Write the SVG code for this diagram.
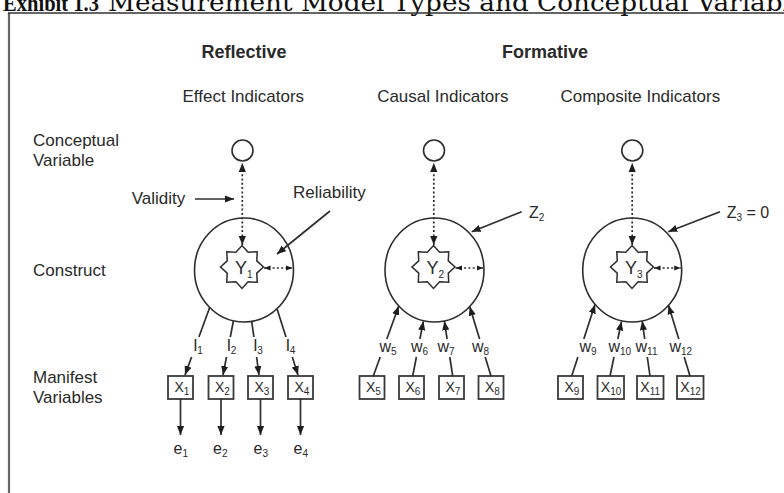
<svg xmlns="http://www.w3.org/2000/svg" width="784" height="493" viewBox="0 0 784 493">
  <style>
    .lbl { font-family: "Liberation Sans", Arial, Helvetica, sans-serif; font-size: 17px; fill: #2a2a2a; }
    .hd { font-weight: bold; font-size: 18px; }
    .sym { font-family: "Liberation Sans", Arial, Helvetica, sans-serif; font-size: 16px; fill: #2a2a2a; }
    .yl { font-size: 18px; }
    .xl { font-size: 14px; }
    .sub { font-size: 10px; }
    .ln { stroke: #2e2e2e; stroke-width: 1.7; fill: none; }
    .dot { stroke-dasharray: 2 2.3; }
    .box { fill: #fff; stroke: #3a3a3a; stroke-width: 1.8; }
    .cir { fill: #fff; stroke: #2e2e2e; stroke-width: 1.6; }
    .star { fill: #fff; stroke: #2e2e2e; stroke-width: 1.5; }
    .title { font-family: "DejaVu Serif", "Liberation Serif", serif; font-size: 25px; fill: #111; }
    .title-b { font-family: "Liberation Serif", "DejaVu Serif", serif; font-size: 23px; font-weight: bold; fill: #111; }
  </style>
  <defs>
    <marker id="ah" viewBox="0 0 10 10" refX="10" refY="5" markerWidth="9" markerHeight="9" markerUnits="userSpaceOnUse" orient="auto-start-reverse">
      <path d="M0,1 L10,5 L0,9 z" fill="#1e1e1e"/>
    </marker>
    <marker id="ahs" viewBox="0 0 10 10" refX="10" refY="5" markerWidth="6.5" markerHeight="6.5" markerUnits="userSpaceOnUse" orient="auto-start-reverse">
      <path d="M0,1 L10,5 L0,9 z" fill="#1e1e1e"/>
    </marker>
    <!-- eight-pointed construct star, centred on 0,0 -->
    <polygon id="star8" points="21.5,0 14.78,6.12 15.2,15.2 6.12,14.78 0,21.5 -6.12,14.78 -15.2,15.2 -14.78,6.12 -21.5,0 -14.78,-6.12 -15.2,-15.2 -6.12,-14.78 0,-21.5 6.12,-14.78 15.2,-15.2 14.78,-6.12"/>
  </defs>

  <rect width="784" height="493" fill="#fff"/>

  <!-- title and frame -->
  <g id="title">
    <text class="title-b" x="3" y="11" textLength="96" lengthAdjust="spacingAndGlyphs">Exhibit 1.3</text>
    <text class="title" x="108" y="11" textLength="712" lengthAdjust="spacingAndGlyphs">Measurement Model Types and Conceptual Variables</text>
  </g>
  <g id="frame">
    <line x1="9" y1="13" x2="9" y2="493" stroke="#666" stroke-width="2.2"/>
    <line x1="8" y1="13" x2="784" y2="13" stroke="#333" stroke-width="1.4"/>
  </g>

  <!-- column headings -->
  <g id="heading-reflective"><text class="lbl hd" x="244" y="58" text-anchor="middle">Reflective</text></g>
  <g id="heading-formative"><text class="lbl hd" x="545" y="58" text-anchor="middle">Formative</text></g>
  <g id="sub-effect"><text class="lbl" x="243.3" y="102" text-anchor="middle">Effect Indicators</text></g>
  <g id="sub-causal"><text class="lbl" x="442.8" y="102" text-anchor="middle">Causal Indicators</text></g>
  <g id="sub-composite"><text class="lbl" x="640.3" y="102" text-anchor="middle">Composite Indicators</text></g>

  <!-- row labels -->
  <g id="row-conceptual"><text class="lbl" x="33" y="146">Conceptual</text><text class="lbl" x="33" y="166">Variable</text></g>
  <g id="row-construct"><text class="lbl" x="33" y="276">Construct</text></g>
  <g id="row-manifest"><text class="lbl" x="33" y="383">Manifest</text><text class="lbl" x="33" y="403">Variables</text></g>

  <!-- annotations -->
  <g id="note-validity"><text class="lbl" x="131.7" y="204.3">Validity</text></g>
  <g id="note-reliability"><text class="lbl" x="293" y="198.3">Reliability</text></g>
  <g id="note-z2"><text class="sym" x="529" y="218">Z<tspan class="sub" dy="3">2</tspan></text></g>
  <g id="note-z3"><text class="sym" x="726.7" y="218">Z<tspan class="sub" dy="3">3</tspan><tspan dy="-3"> = 0</tspan></text></g>

  <!-- conceptual variables -->
  <g id="cv1"><circle class="cir" cx="242.5" cy="150.5" r="10.5"/></g>
  <g id="cv2"><circle class="cir" cx="434" cy="150.5" r="10.5"/></g>
  <g id="cv3"><circle class="cir" cx="632.3" cy="150.5" r="10.5"/></g>

  <!-- constructs -->
  <g id="construct-y1">
    <ellipse class="cir" cx="244" cy="270" rx="49.5" ry="52"/>
    <use href="#star8" class="star" transform="translate(242,267)"/>
    <text class="sym yl" x="235" y="273.5">Y<tspan class="sub" font-size="11" dy="4">1</tspan></text>
  </g>
  <g id="construct-y2">
    <ellipse class="cir" cx="434.5" cy="270" rx="49.5" ry="52"/>
    <use href="#star8" class="star" transform="translate(433.5,267)"/>
    <text class="sym yl" x="426.5" y="273.5">Y<tspan class="sub" font-size="11" dy="4">2</tspan></text>
  </g>
  <g id="construct-y3">
    <ellipse class="cir" cx="632.2" cy="270" rx="49.5" ry="52"/>
    <use href="#star8" class="star" transform="translate(632,267)"/>
    <text class="sym yl" x="625" y="273.5">Y<tspan class="sub" font-size="11" dy="4">3</tspan></text>
  </g>

  <!-- manifest variables -->
  <g id="x1"><rect class="box" x="168" y="376" width="25" height="23"/><text class="sym xl" x="174.5" y="391.5">X<tspan class="sub" font-size="9" dy="3">1</tspan></text></g>
  <g id="x2"><rect class="box" x="208.5" y="376" width="25" height="23"/><text class="sym xl" x="215" y="391.5">X<tspan class="sub" font-size="9" dy="3">2</tspan></text></g>
  <g id="x3"><rect class="box" x="248" y="376" width="25" height="23"/><text class="sym xl" x="254.5" y="391.5">X<tspan class="sub" font-size="9" dy="3">3</tspan></text></g>
  <g id="x4"><rect class="box" x="288" y="376" width="25" height="23"/><text class="sym xl" x="294.5" y="391.5">X<tspan class="sub" font-size="9" dy="3">4</tspan></text></g>
  <g id="x5"><rect class="box" x="359.5" y="376" width="25" height="23"/><text class="sym xl" x="366" y="391.5">X<tspan class="sub" font-size="9" dy="3">5</tspan></text></g>
  <g id="x6"><rect class="box" x="399" y="376" width="25" height="23"/><text class="sym xl" x="405.5" y="391.5">X<tspan class="sub" font-size="9" dy="3">6</tspan></text></g>
  <g id="x7"><rect class="box" x="439" y="376" width="25" height="23"/><text class="sym xl" x="445.5" y="391.5">X<tspan class="sub" font-size="9" dy="3">7</tspan></text></g>
  <g id="x8"><rect class="box" x="478.5" y="376" width="25" height="23"/><text class="sym xl" x="485" y="391.5">X<tspan class="sub" font-size="9" dy="3">8</tspan></text></g>
  <g id="x9"><rect class="box" x="558" y="376" width="25" height="23"/><text class="sym xl" x="564.5" y="391.5">X<tspan class="sub" font-size="9" dy="3">9</tspan></text></g>
  <g id="x10"><rect class="box" x="597.5" y="376" width="26.5" height="23"/><text class="sym xl" x="600.8" y="391.5">X<tspan class="sub" font-size="9" dy="3">10</tspan></text></g>
  <g id="x11"><rect class="box" x="637" y="376" width="26.5" height="23"/><text class="sym xl" x="640.3" y="391.5">X<tspan class="sub" font-size="9" dy="3">11</tspan></text></g>
  <g id="x12"><rect class="box" x="677" y="376" width="26.5" height="23"/><text class="sym xl" x="680.3" y="391.5">X<tspan class="sub" font-size="9" dy="3">12</tspan></text></g>

  <!-- error terms -->
  <g id="e1"><text class="sym" x="173.5" y="454">e<tspan class="sub" dy="3">1</tspan></text></g>
  <g id="e2"><text class="sym" x="213" y="454">e<tspan class="sub" dy="3">2</tspan></text></g>
  <g id="e3"><text class="sym" x="253.5" y="454">e<tspan class="sub" dy="3">3</tspan></text></g>
  <g id="e4"><text class="sym" x="293.5" y="454">e<tspan class="sub" dy="3">4</tspan></text></g>

  <!-- loadings and weights -->
  <g id="loadings">
    <text class="lbl" x="193.5" y="351" font-size="18">l<tspan class="sub" dy="3">1</tspan></text>
    <text class="lbl" x="227" y="351" font-size="18">l<tspan class="sub" dy="3">2</tspan></text>
    <text class="lbl" x="253.5" y="351" font-size="18">l<tspan class="sub" dy="3">3</tspan></text>
    <text class="lbl" x="286" y="351" font-size="18">l<tspan class="sub" dy="3">4</tspan></text>
  </g>
  <g id="weights">
    <text class="sym" x="379.5" y="352">w<tspan class="sub" dy="3">5</tspan></text>
    <text class="sym" x="411" y="352">w<tspan class="sub" dy="3">6</tspan></text>
    <text class="sym" x="437.5" y="352">w<tspan class="sub" dy="3">7</tspan></text>
    <text class="sym" x="472" y="352">w<tspan class="sub" dy="3">8</tspan></text>
    <text class="sym" x="579.5" y="352">w<tspan class="sub" dy="3">9</tspan></text>
    <text class="sym" x="608.5" y="352">w<tspan class="sub" dy="3">10</tspan></text>
    <text class="sym" x="635.5" y="352">w<tspan class="sub" dy="3">11</tspan></text>
    <text class="sym" x="669.5" y="352">w<tspan class="sub" dy="3">12</tspan></text>
  </g>

  <g id="connectors">
    <!-- validity / reliability / disturbance pointers -->
    <line class="ln" x1="195" y1="199" x2="234" y2="199" marker-end="url(#ah)"/>
    <line class="ln" x1="330" y1="211" x2="277" y2="254" marker-end="url(#ah)"/>
    <line class="ln" x1="521.7" y1="211.7" x2="471.7" y2="231.7" marker-end="url(#ah)"/>
    <line class="ln" x1="720" y1="211.7" x2="668.3" y2="231.7" marker-end="url(#ah)"/>

    <!-- construct to conceptual variable (dotted, two-headed) -->
    <line class="ln dot" x1="242.3" y1="245" x2="242.3" y2="163" marker-start="url(#ah)" marker-end="url(#ah)"/>
    <line class="ln dot" x1="433.8" y1="245" x2="433.8" y2="163" marker-start="url(#ah)" marker-end="url(#ah)"/>
    <line class="ln dot" x1="632.2" y1="245" x2="632.2" y2="163" marker-start="url(#ah)" marker-end="url(#ah)"/>

    <!-- star to construct boundary (dashed, two-headed) -->
    <line class="ln dot" x1="264" y1="268" x2="292.5" y2="268" marker-start="url(#ahs)" marker-end="url(#ahs)"/>
    <line class="ln dot" x1="455.5" y1="268" x2="483" y2="268" marker-start="url(#ahs)" marker-end="url(#ahs)"/>
    <line class="ln dot" x1="654" y1="268" x2="680.7" y2="268" marker-start="url(#ahs)" marker-end="url(#ahs)"/>

    <!-- reflective loadings: construct to indicators -->
    <line class="ln" x1="209.7" y1="307.5" x2="198.9" y2="337"/>
    <line class="ln" x1="191.6" y1="357" x2="185" y2="375" marker-end="url(#ah)"/>
    <line class="ln" x1="233.4" y1="321" x2="230.3" y2="337"/>
    <line class="ln" x1="226.5" y1="357" x2="223" y2="375" marker-end="url(#ah)"/>
    <line class="ln" x1="251.7" y1="321.3" x2="253.9" y2="337"/>
    <line class="ln" x1="256.6" y1="357" x2="259" y2="375" marker-end="url(#ah)"/>
    <line class="ln" x1="277" y1="308.8" x2="286" y2="337"/>
    <line class="ln" x1="292.3" y1="357" x2="298" y2="375" marker-end="url(#ah)"/>

    <!-- indicator error terms -->
    <line class="ln" x1="180.5" y1="399" x2="180.5" y2="435" marker-end="url(#ah)"/>
    <line class="ln" x1="221" y1="399" x2="221" y2="435" marker-end="url(#ah)"/>
    <line class="ln" x1="260.5" y1="399" x2="260.5" y2="435" marker-end="url(#ah)"/>
    <line class="ln" x1="300.5" y1="399" x2="300.5" y2="435" marker-end="url(#ah)"/>

    <!-- causal weights: indicators to Y2 -->
    <line class="ln" x1="373.3" y1="376" x2="380.2" y2="357"/>
    <line class="ln" x1="386.8" y1="339" x2="398.8" y2="306" marker-end="url(#ah)"/>
    <line class="ln" x1="412.7" y1="376" x2="416.4" y2="357"/>
    <line class="ln" x1="419.9" y1="339" x2="423.4" y2="321.3" marker-end="url(#ah)"/>
    <line class="ln" x1="452.7" y1="376" x2="449.8" y2="357"/>
    <line class="ln" x1="447.1" y1="339" x2="444.4" y2="321.2" marker-end="url(#ah)"/>
    <line class="ln" x1="491" y1="376" x2="485.2" y2="357"/>
    <line class="ln" x1="479.6" y1="339" x2="469.7" y2="306.6" marker-end="url(#ah)"/>

    <!-- composite weights: indicators to Y3 -->
    <line class="ln" x1="571.7" y1="376" x2="577.9" y2="357"/>
    <line class="ln" x1="583.8" y1="339" x2="595" y2="304.5" marker-end="url(#ah)"/>
    <line class="ln" x1="610" y1="376" x2="614" y2="357"/>
    <line class="ln" x1="617.8" y1="339" x2="621.5" y2="321.5" marker-end="url(#ah)"/>
    <line class="ln" x1="650" y1="376" x2="647.3" y2="357"/>
    <line class="ln" x1="644.7" y1="339" x2="642.2" y2="321.2" marker-end="url(#ah)"/>
    <line class="ln" x1="690" y1="376" x2="684.2" y2="357"/>
    <line class="ln" x1="678.8" y1="339" x2="668.5" y2="305.3" marker-end="url(#ah)"/>
  </g>
</svg>
